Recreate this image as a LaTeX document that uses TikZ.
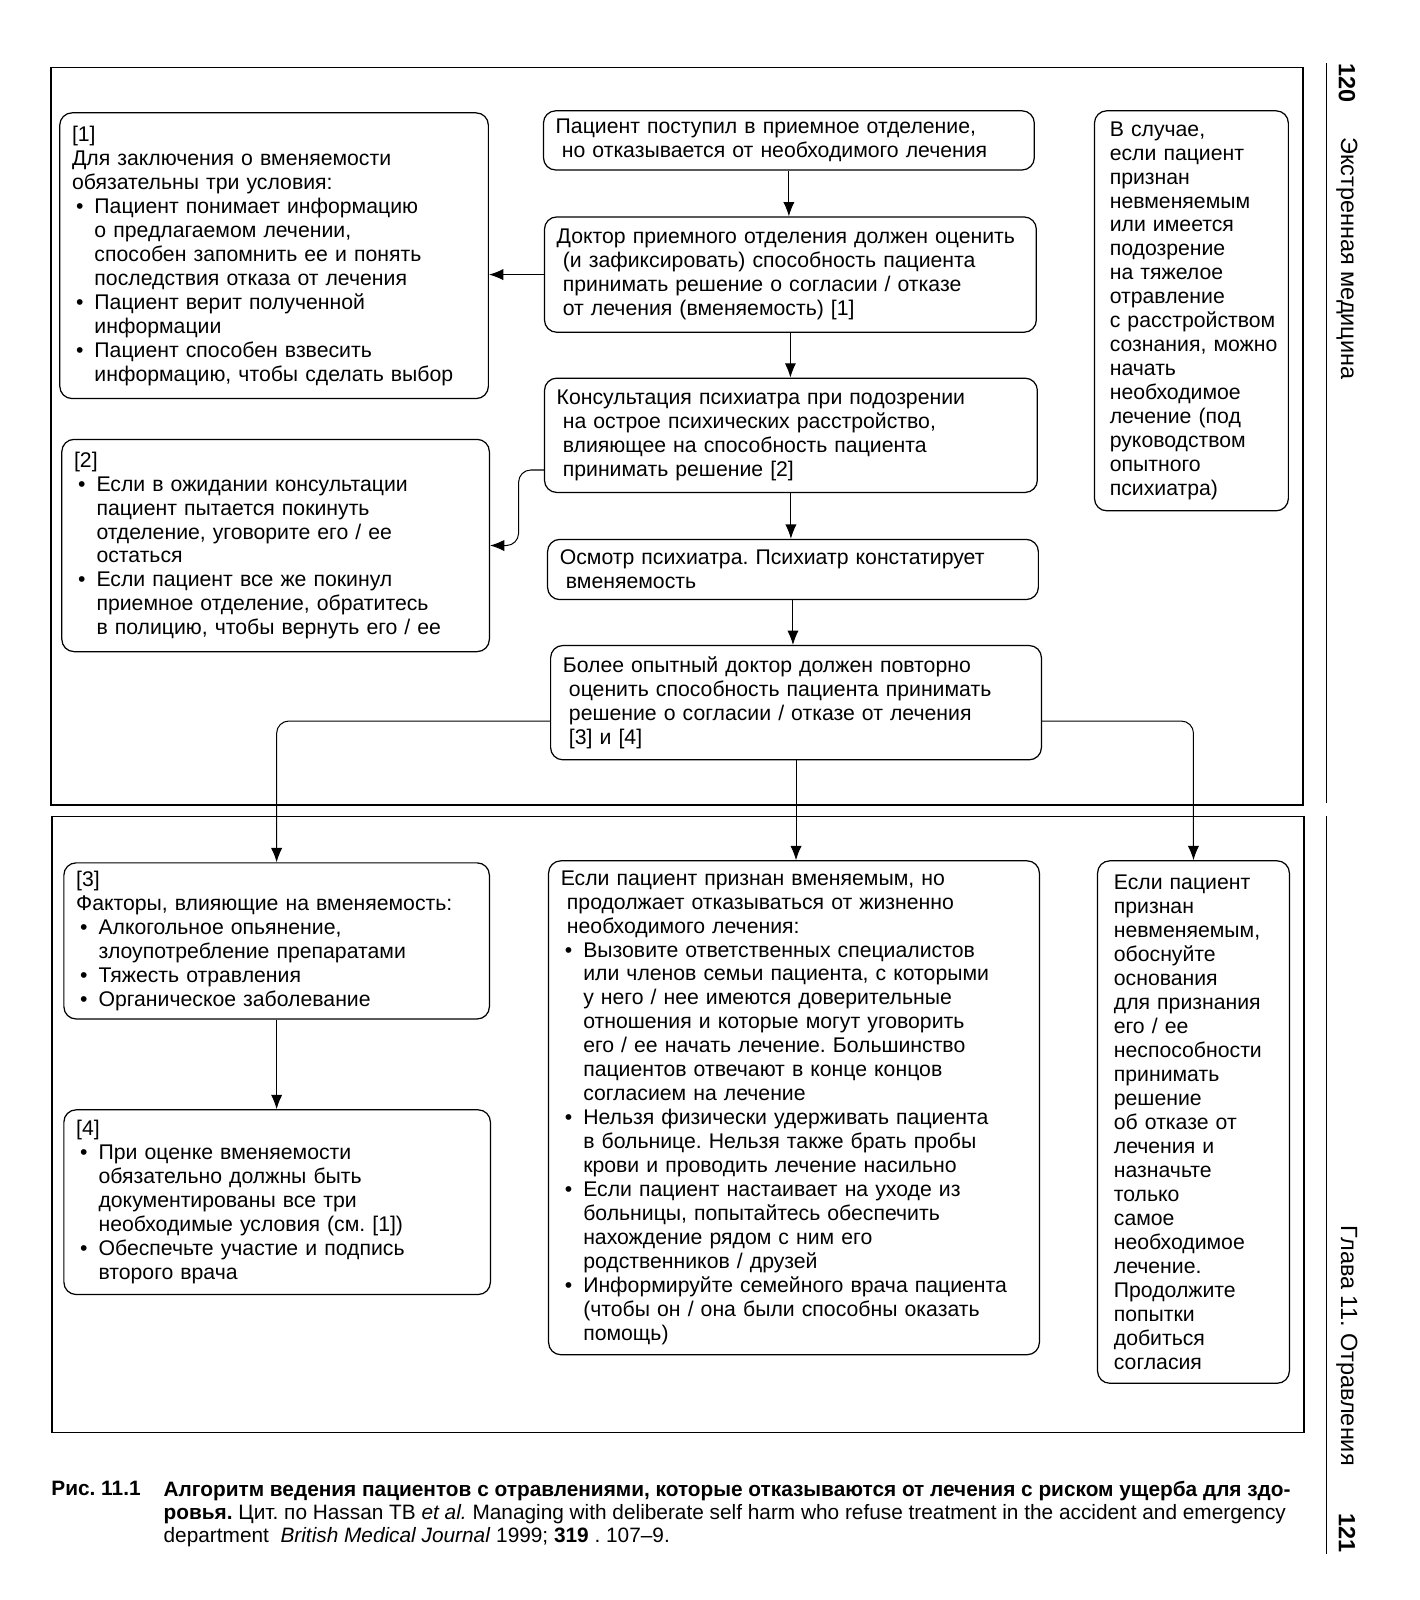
\documentclass[tikz,border=0pt]{standalone}
\usepackage{fontspec}
\setmainfont{Liberation Sans}
\usetikzlibrary{arrows.meta}
\setlength{\parindent}{0pt}
\frenchspacing
\newcommand{\pkt}{\hspace*{2pt}\makebox[9pt][l]{\textbullet}}
\newcommand{\dal}{\hspace*{11pt}}
\newcommand{\sdv}{\hspace*{3pt}}

\begin{document}
\begin{tikzpicture}[x=0.5pt,y=-0.5pt,
    blok/.style={draw, line width=0.6pt, rounded corners=6pt, anchor=north west,
      align=left, inner xsep=6pt, inner ysep=3pt,
      font=\fontsize{10.4}{11.75}\selectfont},
    strelka/.style={line width=0.5pt, -{Latex[length=7pt,width=5.5pt]}},
    ramka/.style={line width=0.7pt},
    spina/.style={rotate=-90, inner sep=0pt, font=\fontsize{11.5}{13}\selectfont}]
  \fill[white] (0,0) rectangle (1391,1568);
  \useasboundingbox (0,0) rectangle (1391,1568);

  % frames and page rule
  \draw[ramka] (50,66) rectangle (1277,789);
  \draw[ramka] (51,800) rectangle (1278,1404);
  \draw[ramka] (1300,62) -- (1300,787);
  \draw[ramka] (1300,800) -- (1300,1523);

  % upper part
  \node[blok, text width=198pt, minimum height=140pt] (usl1) at (58,110) {[1]\\
    Для заключения о вменяемости\\
    обязательны три условия:\\
    \pkt Пациент понимает информацию\\
    \dal о предлагаемом лечении,\\
    \dal способен запомнить ее и понять\\
    \dal последствия отказа от лечения\\
    \pkt Пациент верит полученной\\
    \dal информации\\
    \pkt Пациент способен взвесить\\
    \dal информацию, чтобы сделать выбор};
  \node[blok, text width=228.5pt, minimum height=29pt] (start) at (532,108) {Пациент поступил в приемное отделение,\\
    \sdv но отказывается от необходимого лечения};
  \node[blok, text width=229pt, minimum height=56.5pt] (doktor) at (533,212) {Доктор приемного отделения должен оценить\\
    \sdv (и зафиксировать) способность пациента\\
    \sdv принимать решение о согласии / отказе\\
    \sdv от лечения (вменяемость) [1]};
  \node[blok, text width=229.5pt, minimum height=56pt] (konsult) at (533,370) {Консультация психиатра при подозрении\\
    \sdv на острое психических расстройство,\\
    \sdv влияющее на способность пациента\\
    \sdv принимать решение [2]};
  \node[blok, text width=228.5pt, minimum height=29.5pt] (osmotr) at (536,528) {Осмотр психиатра. Психиатр констатирует\\
    \sdv вменяемость};
  \node[blok, text width=228.5pt, minimum height=56pt] (senior) at (539,632) {Более опытный доктор должен повторно\\
    \sdv оценить способность пациента принимать\\
    \sdv решение о согласии / отказе от лечения\\
    \sdv [3] и [4]};
  \node[blok, text width=86pt, inner xsep=4.5pt, minimum height=196pt] (sluchai) at (1072,108) {\sdv В случае,\\
    \sdv если пациент\\
    \sdv признан\\
    \sdv невменяемым\\
    \sdv или имеется\\
    \sdv подозрение\\
    \sdv на тяжелое\\
    \sdv отравление\\
    \sdv с расстройством\\
    \sdv сознания,~можно\\
    \sdv начать\\
    \sdv необходимое\\
    \sdv лечение (под\\
    \sdv руководством\\
    \sdv опытного\\
    \sdv психиатра)};
  \node[blok, text width=197.5pt, minimum height=104pt] (usl2) at (60,430) {[2]\\
    \pkt Если в ожидании консультации\\
    \dal пациент пытается покинуть\\
    \dal отделение, уговорите его / ее\\
    \dal остаться\\
    \pkt Если пациент все же покинул\\
    \dal приемное отделение, обратитесь\\
    \dal в полицию, чтобы вернуть его / ее};

  % lower part
  \node[blok, text width=196.5pt, minimum height=76.5pt] (usl3) at (62,845) {[3]\\
    Факторы, влияющие на вменяемость:\\
    \pkt Алкогольное опьянение,\\
    \dal злоупотребление препаратами\\
    \pkt Тяжесть отравления\\
    \pkt Органическое заболевание};
  \node[blok, text width=197pt, minimum height=90.5pt] (usl4) at (62,1087) {[4]\\
    \pkt При оценке вменяемости\\
    \dal обязательно должны быть\\
    \dal документированы все три\\
    \dal необходимые условия (см. [1])\\
    \pkt Обеспечьте участие и подпись\\
    \dal второго врача};
  \node[blok, text width=228.5pt, minimum height=242pt] (vmen) at (537,843) {Если пациент признан вменяемым, но\\
    \sdv продолжает отказываться от жизненно\\
    \sdv необходимого лечения:\\
    \pkt Вызовите ответственных специалистов\\
    \dal или членов семьи пациента, с которыми\\
    \dal у него / нее имеются доверительные\\
    \dal отношения и которые могут уговорить\\
    \dal его / ее начать лечение. Большинство\\
    \dal пациентов отвечают в конце концов\\
    \dal согласием на лечение\\
    \pkt Нельзя физически удерживать пациента\\
    \dal в больнице. Нельзя также брать пробы\\
    \dal крови и проводить лечение насильно\\
    \pkt Если пациент настаивает на уходе из\\
    \dal больницы, попытайтесь обеспечить\\
    \dal нахождение рядом с ним его\\
    \dal родственников / друзей\\
    \pkt Информируйте семейного врача пациента\\
    \dal (чтобы он / она были способны оказать\\
    \dal помощь)};
  \node[blok, text width=84pt, inner xsep=5pt, minimum height=256pt] (nevmen) at (1075,843) {\sdv Если пациент\\
    \sdv признан\\
    \sdv невменяемым,\\
    \sdv обоснуйте\\
    \sdv основания\\
    \sdv для признания\\
    \sdv его / ее\\
    \sdv неспособности\\
    \sdv принимать\\
    \sdv решение\\
    \sdv об отказе от\\
    \sdv лечения и\\
    \sdv назначьте\\
    \sdv только\\
    \sdv самое\\
    \sdv необходимое\\
    \sdv лечение.\\
    \sdv Продолжите\\
    \sdv попытки\\
    \sdv добиться\\
    \sdv согласия};

  % connectors
  \draw[strelka] (start.south) -- (start.south |- doktor.north);
  \draw[strelka] (doktor.west) -- (doktor.west -| usl1.east);
  \draw[strelka] (doktor.south) -- (doktor.south |- konsult.north);
  \draw[strelka, rounded corners=6pt] ([yshift=-17pt]konsult.west) -| ([xshift=14pt]usl2.east) -- (usl2.east);
  \draw[strelka] (konsult.south) -- (konsult.south |- osmotr.north);
  \draw[strelka] (osmotr.south) -- (osmotr.south |- senior.north);
  \draw[strelka, rounded corners=6pt] ([yshift=-9pt]senior.west) -| (usl3.north);
  \draw[strelka, rounded corners=6pt] ([yshift=-9pt]senior.east) -| (nevmen.north);
  \draw[strelka] (senior.south) -- (senior.south |- vmen.north);
  \draw[strelka] (usl3.south) -- (usl3.south |- usl4.north);

  % page margin
  \node[spina, font=\fontsize{11.5}{13}\selectfont\bfseries] (str1) at (1320,81) {120};
  \node[spina, anchor=west] (kolon1) at (1320,134) {Экстренная медицина};
  \node[spina, anchor=west] (kolon2) at (1320,1201) {Глава 11. Отравления};
  \node[spina, font=\fontsize{11.5}{13}\selectfont\bfseries] (str2) at (1320,1502) {121};

  % caption
  \node[anchor=north west, inner sep=0pt, font=\fontsize{10.2}{11.3}\selectfont\bfseries] (ris) at (50,1451) {Рис. 11.1};
  \node[anchor=north west, inner sep=0pt, align=left, font=\fontsize{10.2}{11.3}\selectfont] (podp) at (160,1451) {\textbf{Алгоритм ведения пациентов с отравлениями, которые отказываются от лечения с риском ущерба для здо-}\\
    \textbf{ровья.} Цит. по Hassan TB \textit{et al.} Managing with deliberate self harm who refuse treatment in the accident and emergency\\
    department \ \textit{British Medical Journal} 1999; \textbf{319} . 107--9.};
\end{tikzpicture}
\end{document}
